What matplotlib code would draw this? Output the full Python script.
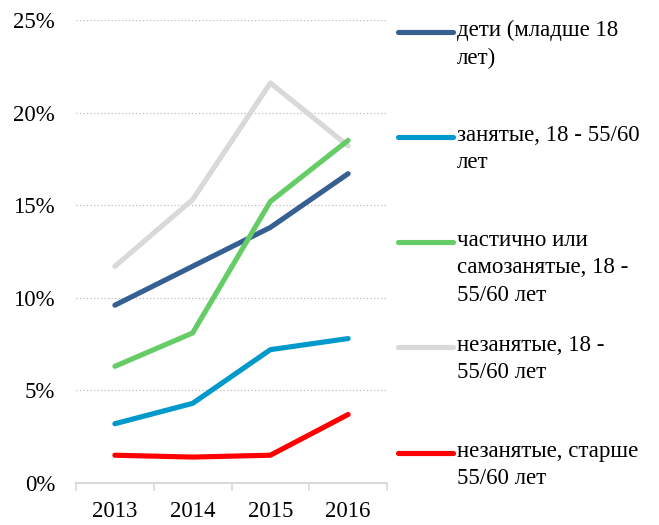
import matplotlib
matplotlib.use("Agg")
import matplotlib.pyplot as plt
from matplotlib.lines import Line2D
from matplotlib.ticker import FuncFormatter, MultipleLocator, FixedLocator

years = ["2013", "2014", "2015", "2016"]
children = [9.6, 11.7, 13.8, 16.7]
employed = [3.2, 4.3, 7.2, 7.8]
partial = [6.3, 8.1, 15.2, 18.5]
unemployed = [11.7, 15.3, 21.6, 18.2]
unemployed_old = [1.5, 1.4, 1.5, 3.7]

labels = ["дети (младше 18\nлет)",
          "занятые, 18 - 55/60\nлет",
          "частично или\nсамозанятые, 18 -\n55/60 лет",
          "незанятые, 18 -\n55/60 лет",
          "незанятые, старше\n55/60 лет"]
series = [children, employed, partial, unemployed, unemployed_old]
colors = ["#376092", "#0099CC", "#66CC66", "#D9D9D9", "#FF0000"]

plt.rcParams['font.family'] = ['Liberation Serif', 'DejaVu Serif']

fig = plt.figure(figsize=(6.59, 5.25), dpi=100)
ax = fig.add_axes([76/659, 1-483/525, (387-76)/659, (483-20)/525])

x = list(range(len(years)))
order = [3, 0, 2, 1, 4]
for i in order:
    ax.plot(x, series[i], color=colors[i], lw=3.7, solid_capstyle='round',
            solid_joinstyle='round', zorder=3)

ax.set_xlim(-0.5, 3.5)
ax.set_ylim(0, 25)
ax.yaxis.set_major_locator(MultipleLocator(5))
ax.yaxis.set_major_formatter(FuncFormatter(lambda v, p: f"{int(v)}%"))
for y in range(5, 26, 5):
    ax.axhline(y, color="#BFBFBF", lw=0.9, ls=(0, (1, 1.8)), zorder=1)

ax.set_xticks(x)
ax.set_xticklabels(years)
ax.xaxis.set_minor_locator(FixedLocator([-0.5, 0.5, 1.5, 2.5, 3.5]))
ax.tick_params(axis='x', which='major', length=0, pad=13, labelsize=16.5, colors='#000000')
ax.tick_params(axis='x', which='minor', length=6, width=1.2, color='#D9D9D9')
ax.tick_params(axis='y', length=0, pad=15, labelsize=16.5)
for s in ['top', 'right', 'left']:
    ax.spines[s].set_visible(False)
ax.spines['bottom'].set_color('#D9D9D9')
ax.spines['bottom'].set_linewidth(1.5)

# legend
ys = [32, 137, 242, 347, 453]
for yy, lab, c in zip(ys, labels, colors):
    fy = 1 - yy/525
    fig.add_artist(Line2D([398/659, 453/659], [fy, fy], color=c, lw=3.7,
                          solid_capstyle='round', transform=fig.transFigure))
    fig.text(457/659, fy + 12/525, lab, fontsize=16.5, va='top', ha='left',
             linespacing=1.4)

fig.savefig("out.png", dpi=100)
